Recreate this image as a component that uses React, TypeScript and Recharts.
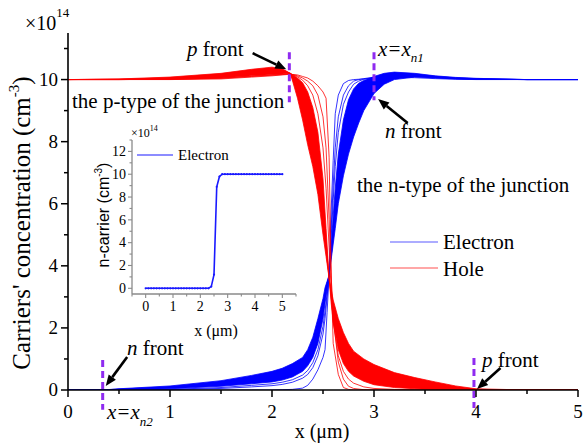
import React from "react";
import { ComposedChart, Line, Area, XAxis, YAxis, ReferenceLine } from "recharts";

const SERIF = "Liberation Serif";
const SANS = "Liberation Sans";

// ---- main chart: hole concentration curves (x in um, y in 1e14 cm^-3)
const X_RED = [0, 0.5, 1, 1.5, 1.8, 2.0, 2.1, 2.18, 2.25, 2.3, 2.35, 2.4, 2.45, 2.5, 2.53, 2.56, 2.58, 2.6, 2.65, 2.7, 2.75, 2.8, 2.9, 3.0, 3.2, 3.4, 3.6, 3.8, 4.0, 4.5, 5];
const HOLE_1 = [10, 10, 10, 10.02, 10.08, 10.12, 10.15, 10.17, 10.15, 10.1, 10.05, 9.95, 9.8, 9.6, 9.4, 7.5, 3.8, 1.5, 0.5, 0.08, 0.02, 0, 0, 0, 0, 0, 0, 0, 0, 0, 0];
const HOLE_2 = [10, 10, 10.01, 10.04, 10.1, 10.14, 10.16, 10.18, 10.12, 10.05, 9.95, 9.8, 9.5, 8.8, 7.8, 5.5, 3.7, 2.3, 0.9, 0.35, 0.12, 0.05, 0.01, 0, 0, 0, 0, 0, 0, 0, 0];
const HOLE_2B = [10, 10, 10.01, 10.05, 10.11, 10.15, 10.17, 10.19, 10.09, 9.98, 9.8, 9.5, 8.9, 7.8, 6.5, 4.6, 3.2, 2.2, 1.1, 0.6, 0.35, 0.22, 0.1, 0.05, 0.02, 0.01, 0, 0, 0, 0, 0];
const HOLE_3 = [10, 10, 10.01, 10.05, 10.12, 10.16, 10.18, 10.2, 10.05, 9.9, 9.6, 9.1, 8.3, 6.8, 5.2, 3.6, 2.8, 2.2, 1.3, 0.85, 0.6, 0.45, 0.28, 0.17, 0.08, 0.04, 0.02, 0.01, 0, 0, 0];
const HOLE_4 = [10, 10.01, 10.03, 10.09, 10.2, 10.26, 10.26, 10.2, 9.8, 9.5, 9.0, 8.4, 7.5, 6.1, 4.8, 3.6, 3.0, 2.5, 1.7, 1.2, 0.9, 0.7, 0.48, 0.35, 0.2, 0.12, 0.06, 0.03, 0.01, 0, 0];
const HOLE_5 = [10, 10.01, 10.05, 10.14, 10.27, 10.33, 10.31, 10.2, 9.6, 9.1, 8.5, 7.8, 6.9, 5.5, 4.5, 3.6, 3.1, 2.7, 2.0, 1.55, 1.2, 0.95, 0.7, 0.55, 0.35, 0.24, 0.14, 0.07, 0.02, 0, 0];
const HOLE_6 = [10, 10.02, 10.08, 10.2, 10.33, 10.4, 10.35, 10.2, 9.4, 8.7, 7.9, 7.2, 6.3, 5.0, 4.3, 3.6, 3.25, 2.9, 2.3, 1.85, 1.5, 1.25, 1.0, 0.82, 0.56, 0.4, 0.26, 0.13, 0.04, 0, 0];

// ---- electron concentration curves
const X_BLUE = [0, 0.34, 0.5, 1, 1.5, 1.8, 2.0, 2.1, 2.2, 2.3, 2.35, 2.4, 2.45, 2.5, 2.52, 2.54, 2.56, 2.58, 2.6, 2.62, 2.65, 2.7, 2.75, 2.8, 2.85, 2.9, 3.0, 3.1, 3.2, 3.4, 3.6, 3.8, 4.0, 4.5, 5];
const ELEC_1 = [0, 0, 0, 0, 0, 0, 0, 0.01, 0.02, 0.06, 0.15, 0.35, 0.65, 1.05, 1.3, 2.5, 3.7, 5.8, 7.4, 8.9, 9.5, 9.87, 9.97, 10.0, 10.01, 10.02, 10.04, 10.06, 10.07, 10.06, 10.03, 10.01, 10.0, 10, 10];
const ELEC_2 = [0, 0, 0, 0.01, 0.05, 0.1, 0.14, 0.18, 0.25, 0.38, 0.5, 0.72, 1.1, 1.8, 2.3, 3.0, 3.7, 5.2, 6.6, 7.8, 8.8, 9.5, 9.8, 9.95, 10.0, 10.03, 10.08, 10.12, 10.14, 10.1, 10.05, 10.02, 10.01, 10, 10];
const ELEC_2B = [0, 0, 0, 0.02, 0.08, 0.15, 0.2, 0.25, 0.33, 0.48, 0.63, 0.88, 1.3, 2.05, 2.55, 3.1, 3.7, 4.9, 6.1, 7.2, 8.3, 9.2, 9.6, 9.85, 9.95, 10.01, 10.07, 10.14, 10.17, 10.13, 10.07, 10.03, 10.01, 10, 10];
const ELEC_3 = [0, 0, 0.01, 0.04, 0.12, 0.2, 0.26, 0.32, 0.42, 0.6, 0.78, 1.05, 1.5, 2.3, 2.8, 3.25, 3.7, 4.6, 5.6, 6.5, 7.6, 8.7, 9.35, 9.7, 9.88, 9.97, 10.05, 10.15, 10.2, 10.15, 10.08, 10.04, 10.02, 10, 10];
const ELEC_4 = [0, 0, 0.02, 0.07, 0.18, 0.29, 0.37, 0.44, 0.56, 0.76, 0.96, 1.28, 1.8, 2.55, 2.95, 3.35, 3.7, 4.4, 5.2, 5.9, 6.9, 8.0, 8.8, 9.35, 9.7, 9.9, 10.1, 10.2, 10.24, 10.2, 10.12, 10.07, 10.04, 10, 10];
const ELEC_5 = [0, 0, 0.03, 0.1, 0.24, 0.38, 0.48, 0.57, 0.7, 0.9, 1.12, 1.48, 2.05, 2.75, 3.1, 3.45, 3.7, 4.3, 4.95, 5.5, 6.4, 7.4, 8.2, 8.8, 9.2, 9.5, 9.85, 10.05, 10.15, 10.16, 10.1, 10.06, 10.03, 10, 10];
const ELEC_6 = [0, 0, 0.04, 0.13, 0.3, 0.47, 0.6, 0.7, 0.85, 1.05, 1.3, 1.7, 2.3, 2.95, 3.3, 3.5, 3.7, 4.2, 4.7, 5.2, 6.0, 6.9, 7.6, 8.15, 8.6, 9.0, 9.55, 9.85, 10.0, 10.08, 10.06, 10.03, 10.01, 10, 10];

// ---- inset: single electron profile
const INSET_X = [0, 0.1, 0.2, 0.3, 0.4, 0.5, 0.6, 0.7, 0.8, 0.9, 1.0, 1.1, 1.2, 1.3, 1.4, 1.5, 1.6, 1.7, 1.8, 1.9, 2.0, 2.1, 2.2, 2.3, 2.4, 2.5, 2.6, 2.7, 2.8, 2.9, 3.0, 3.1, 3.2, 3.3, 3.4, 3.5, 3.6, 3.7, 3.8, 3.9, 4.0, 4.1, 4.2, 4.3, 4.4, 4.5, 4.6, 4.7, 4.8, 4.9, 5.0];
const INSET_E = [0, 0, 0, 0, 0, 0, 0, 0, 0, 0, 0, 0, 0, 0, 0, 0, 0, 0, 0, 0, 0, 0, 0, 0, 0.15, 1.2, 8.9, 9.8, 10, 10, 10, 10, 10, 10, 10, 10, 10, 10, 10, 10, 10, 10, 10, 10, 10, 10, 10, 10, 10, 10, 10];

// ticks
const X_TICKS = [0, 0.5, 1, 1.5, 2, 2.5, 3, 3.5, 4, 4.5, 5];
const Y_TICKS = [0, 1, 2, 3, 4, 5, 6, 7, 8, 9, 10, 11];
const Y_RIGHT_TICKS = [1.15, 2.3, 3.45, 4.6, 5.75, 6.9, 8.05, 9.2, 10.35];
const IN_X_TICKS = [-0.5, 0, 0.5, 1, 1.5, 2, 2.5, 3, 3.5, 4, 4.5, 5, 5.5];
const IN_Y_TICKS = [0, 1, 2, 3, 4, 5, 6, 7, 8, 9, 10, 11, 12, 13];
const IN_TOP_TICKS = [0.1, 0.7, 1.3, 1.9, 2.5, 3.1, 3.7, 4.3, 4.9];
const IN_RIGHT_TICKS = [0.85, 2.2, 3.55, 4.9, 6.25, 7.6, 8.95, 10.3, 11.65];

// annotations (data coordinates)
const FRONT_MARKS = [
  { x: 2.17, y1: 10.88, y2: 9.27 },
  { x: 3.0, y1: 10.88, y2: 9.33 },
  { x: 0.34, y1: 0.97, y2: -0.64 },
  { x: 3.98, y1: 1.03, y2: -0.58 },
];
const FRONT_ARROWS = [
  { x1: 1.81, y1: 10.85, x2: 2.14, y2: 10.33 },
  { x1: 3.33, y1: 8.6, x2: 3.04, y2: 9.37 },
  { x1: 0.58, y1: 1.06, x2: 0.37, y2: 0.13 },
  { x1: 4.24, y1: 0.71, x2: 4.01, y2: 0.03 },
];

const toPts = (xs: number[], ys: number[]) => xs.map((x, i) => ({ x, y: ys[i] }));
const toBand = (xs: number[], sets: number[][]) =>
  xs.map((x, i) => {
    const v = sets.map((s) => s[i]);
    return { x, r: [Math.min(...v), Math.max(...v)] };
  });

const holeCurves = [HOLE_1, HOLE_2, HOLE_2B, HOLE_3, HOLE_4, HOLE_5, HOLE_6].map((h) => toPts(X_RED, h));
const elecCurves = [ELEC_1, ELEC_2, ELEC_2B, ELEC_3, ELEC_4, ELEC_5, ELEC_6].map((e) => toPts(X_BLUE, e));
const holeBand = toBand(X_RED, [HOLE_3, HOLE_4, HOLE_5, HOLE_6]);
const elecBand = toBand(X_BLUE, [ELEC_3, ELEC_4, ELEC_5, ELEC_6]);
const insetData = toPts(INSET_X, INSET_E);

type Side = "bottom" | "left" | "top" | "right";
interface TickOpts {
  side: Side;
  isMajor: (v: number) => boolean;
  major: number;
  minor: number;
  label: boolean;
  offset: number;
  fontSize: number;
  stroke: string;
  width: number;
}

const makeTick = (o: TickOpts) => (props: any) => {
  const { x, y, payload } = props;
  const v = payload.value as number;
  const maj = o.isMajor(v);
  const len = maj ? o.major : o.minor;
  const ls = { stroke: o.stroke, strokeWidth: o.width };
  let ln = null;
  let tx = null;
  if (o.side === "bottom") {
    ln = <line x1={x} y1={y} x2={x} y2={y + len} {...ls} />;
    if (maj && o.label)
      tx = (
        <text x={x} y={y + o.offset} textAnchor="middle" fill="#000" fontFamily={SERIF} fontSize={o.fontSize}>
          {v}
        </text>
      );
  } else if (o.side === "left") {
    ln = <line x1={x} y1={y} x2={x - len} y2={y} {...ls} />;
    if (maj && o.label)
      tx = (
        <text x={x - o.offset} y={y} dy="0.34em" textAnchor="end" fill="#000" fontFamily={SERIF} fontSize={o.fontSize}>
          {v}
        </text>
      );
  } else if (o.side === "top") {
    ln = <line x1={x} y1={y} x2={x} y2={y + len} {...ls} />;
  } else {
    ln = <line x1={x} y1={y} x2={x - len} y2={y} {...ls} />;
  }
  return (
    <g>
      {ln}
      {tx}
    </g>
  );
};

const isInt = (v: number) => Math.abs(v - Math.round(v)) < 1e-6;
const isEven = (v: number) => isInt(v) && Math.round(v) % 2 === 0;
const always = () => true;

const Arrow = (props: any) => {
  const { x1, y1, x2, y2 } = props;
  const dx = x2 - x1;
  const dy = y2 - y1;
  const L = Math.sqrt(dx * dx + dy * dy);
  const ux = dx / L;
  const uy = dy / L;
  const hl = 11;
  const hw = 4.5;
  const bx = x2 - ux * hl;
  const by = y2 - uy * hl;
  return (
    <g>
      <line x1={x1} y1={y1} x2={bx} y2={by} stroke="#000" strokeWidth={2.6} />
      <polygon
        points={`${x2},${y2} ${bx - uy * hw},${by + ux * hw} ${bx + uy * hw},${by - ux * hw}`}
        fill="#000"
      />
    </g>
  );
};

function MainChart() {
  const ax = { stroke: "#000", strokeWidth: 1.6 };
  return (
    <ComposedChart width={583} height={445} margin={{ top: 33, right: 5, bottom: 25, left: 8 }}>
      <XAxis
        dataKey="x"
        type="number"
        domain={[0, 5]}
        ticks={X_TICKS}
        interval={0}
        height={30}
        allowDataOverflow
        axisLine={ax}
        tickLine={false}
        tickSize={0}
        tickMargin={0}
        tick={makeTick({ side: "bottom", isMajor: isInt, major: 7, minor: 4, label: true, offset: 28, fontSize: 19, stroke: "#000", width: 1.5 })}
      />
      <XAxis
        xAxisId="top"
        orientation="top"
        type="number"
        domain={[0, 5]}
        ticks={X_TICKS}
        interval={0}
        height={0}
        allowDataOverflow
        axisLine={ax}
        tickLine={false}
        tickSize={0}
        tickMargin={0}
        tick={makeTick({ side: "top", isMajor: always, major: 7, minor: 7, label: false, offset: 0, fontSize: 19, stroke: "#000", width: 1.5 })}
      />
      <YAxis
        type="number"
        domain={[0, 11.5]}
        ticks={Y_TICKS}
        interval={0}
        width={60}
        allowDataOverflow
        axisLine={ax}
        tickLine={false}
        tickSize={0}
        tickMargin={0}
        tick={makeTick({ side: "left", isMajor: isEven, major: 7, minor: 4, label: true, offset: 10, fontSize: 19, stroke: "#000", width: 1.5 })}
      />
      <YAxis
        yAxisId="right"
        orientation="right"
        type="number"
        domain={[0, 11.5]}
        ticks={Y_RIGHT_TICKS}
        interval={0}
        width={0}
        allowDataOverflow
        axisLine={ax}
        tickLine={false}
        tickSize={0}
        tickMargin={0}
        tick={makeTick({ side: "right", isMajor: always, major: 7, minor: 7, label: false, offset: 0, fontSize: 19, stroke: "#000", width: 1.5 })}
      />

      <Area data={elecBand} dataKey="r" type="linear" stroke="none" fill="#0000ff" fillOpacity={1} isAnimationActive={false} />
      {elecCurves.map((d, i) => (
        <Line key={`e${i}`} data={d} dataKey="y" type="linear" stroke="#0000ff" strokeWidth={0.8} dot={false} isAnimationActive={false} />
      ))}
      <Area data={holeBand} dataKey="r" type="linear" stroke="none" fill="#ff0000" fillOpacity={1} isAnimationActive={false} />
      {holeCurves.map((d, i) => (
        <Line key={`h${i}`} data={d} dataKey="y" type="linear" stroke="#ff0000" strokeWidth={0.8} dot={false} isAnimationActive={false} />
      ))}

      {FRONT_MARKS.map((m, i) => (
        <ReferenceLine
          key={`m${i}`}
          segment={[{ x: m.x, y: m.y1 }, { x: m.x, y: m.y2 }]}
          ifOverflow="visible"
          stroke="#8f2bf0"
          strokeWidth={3}
          strokeDasharray="7 4"
        />
      ))}
      {FRONT_ARROWS.map((a, i) => (
        <ReferenceLine
          key={`a${i}`}
          segment={[{ x: a.x1, y: a.y1 }, { x: a.x2, y: a.y2 }]}
          ifOverflow="visible"
          shape={Arrow}
        />
      ))}
    </ComposedChart>
  );
}

function InsetChart() {
  const ax = { stroke: "#8a8a8a", strokeWidth: 1.3 };
  const g = "#8a8a8a";
  return (
    <ComposedChart width={215} height={225} margin={{ top: 20, right: 9, bottom: 31, left: 0 }}>
      <XAxis
        dataKey="x"
        type="number"
        domain={[-0.5, 5.5]}
        ticks={IN_X_TICKS}
        interval={0}
        height={20}
        allowDataOverflow
        axisLine={ax}
        tickLine={false}
        tickSize={0}
        tickMargin={0}
        tick={makeTick({ side: "bottom", isMajor: (v) => isInt(v) && v >= 0 && v <= 5, major: 4, minor: 2.5, label: true, offset: 17, fontSize: 14, stroke: g, width: 1.1 })}
      />
      <XAxis
        xAxisId="top"
        orientation="top"
        type="number"
        domain={[-0.5, 5.5]}
        ticks={IN_TOP_TICKS}
        interval={0}
        height={0}
        allowDataOverflow
        axisLine={ax}
        tickLine={false}
        tickSize={0}
        tickMargin={0}
        tick={makeTick({ side: "top", isMajor: always, major: 4, minor: 4, label: false, offset: 0, fontSize: 14, stroke: g, width: 1.1 })}
      />
      <YAxis
        type="number"
        domain={[-0.5, 13]}
        ticks={IN_Y_TICKS}
        interval={0}
        width={42}
        allowDataOverflow
        axisLine={ax}
        tickLine={false}
        tickSize={0}
        tickMargin={0}
        tick={makeTick({ side: "left", isMajor: isEven, major: 4, minor: 2.5, label: true, offset: 6, fontSize: 14, stroke: g, width: 1.1 })}
      />
      <YAxis
        yAxisId="right"
        orientation="right"
        type="number"
        domain={[-0.5, 13]}
        ticks={IN_RIGHT_TICKS}
        interval={0}
        width={0}
        allowDataOverflow
        axisLine={ax}
        tickLine={false}
        tickSize={0}
        tickMargin={0}
        tick={makeTick({ side: "right", isMajor: always, major: 4, minor: 4, label: false, offset: 0, fontSize: 14, stroke: g, width: 1.1 })}
      />
      <Line
        data={insetData}
        dataKey="y"
        type="linear"
        stroke="#1a1aff"
        strokeWidth={1.6}
        dot={{ r: 1.1, fill: "#1a1aff", stroke: "none" }}
        isAnimationActive={false}
      />
    </ComposedChart>
  );
}

const T = ({ x, y, size, italic, anchor, transform, children, family }: any) => (
  <text
    x={x}
    y={y}
    transform={transform}
    textAnchor={anchor || "start"}
    fill="#000"
    fontFamily={family || SERIF}
    fontSize={size}
    fontStyle={italic ? "italic" : "normal"}
  >
    {children}
  </text>
);

export default function App() {
  return (
    <div style={{ position: "absolute", left: 0, top: 0, width: 583, height: 445, background: "#fff" }}>
      <MainChart />
      <div style={{ position: "absolute", left: 90, top: 120 }}>
        <InsetChart />
      </div>
      <svg width={583} height={445} style={{ position: "absolute", left: 0, top: 0, pointerEvents: "none" }}>
        <T x={25} y={30} size={20}>
          ×10<tspan dy={-13} fontSize={13}>14</tspan>
        </T>
        <T transform="translate(30,223) rotate(-90)" anchor="middle" size={25}>
          Carriers' concentration (cm<tspan dy={-11} fontSize={15}>-3</tspan>
          <tspan dy={11}>)</tspan>
        </T>
        <T x={322} y={438} anchor="middle" size={20}>
          x (μm)
        </T>
        <T x={187} y={56} size={21}>
          <tspan fontStyle="italic">p</tspan> front
        </T>
        <T x={72} y={108} size={21}>
          the p-type of the junction
        </T>
        <T x={378} y={56} size={21} italic>
          x=x<tspan dy={6} fontSize={13}>n1</tspan>
        </T>
        <T x={385} y={138} size={21}>
          <tspan fontStyle="italic">n</tspan> front
        </T>
        <T x={357} y={192} size={21}>
          the n-type of the junction
        </T>
        <line x1={390} y1={242} x2={438} y2={242} stroke="#5a5aff" strokeWidth={1.2} />
        <T x={443} y={249} size={21}>
          Electron
        </T>
        <line x1={390} y1={268} x2={438} y2={268} stroke="#ff5050" strokeWidth={1.2} />
        <T x={443} y={276} size={21}>
          Hole
        </T>
        <T x={127} y={355} size={21}>
          <tspan fontStyle="italic">n</tspan> front
        </T>
        <T x={107} y={419} size={21} italic>
          x=x<tspan dy={7} fontSize={13}>n2</tspan>
        </T>
        <T x={482} y={367} size={21}>
          <tspan fontStyle="italic">p</tspan> front
        </T>

        <T x={131} y={137} size={12}>
          ×10<tspan dy={-6} fontSize={8}>14</tspan>
        </T>
        <T transform="translate(109,215) rotate(-90)" anchor="middle" size={16} family={SANS}>
          n-carrier (cm<tspan dy={-7} fontSize={10}>-3</tspan>
          <tspan dy={7}>)</tspan>
        </T>
        <T x={216} y={336} anchor="middle" size={16}>
          x (μm)
        </T>
        <line x1={137} y1={155} x2={173} y2={155} stroke="#1a1aff" strokeWidth={1.2} />
        <T x={178} y={160} size={15}>
          Electron
        </T>
      </svg>
    </div>
  );
}
